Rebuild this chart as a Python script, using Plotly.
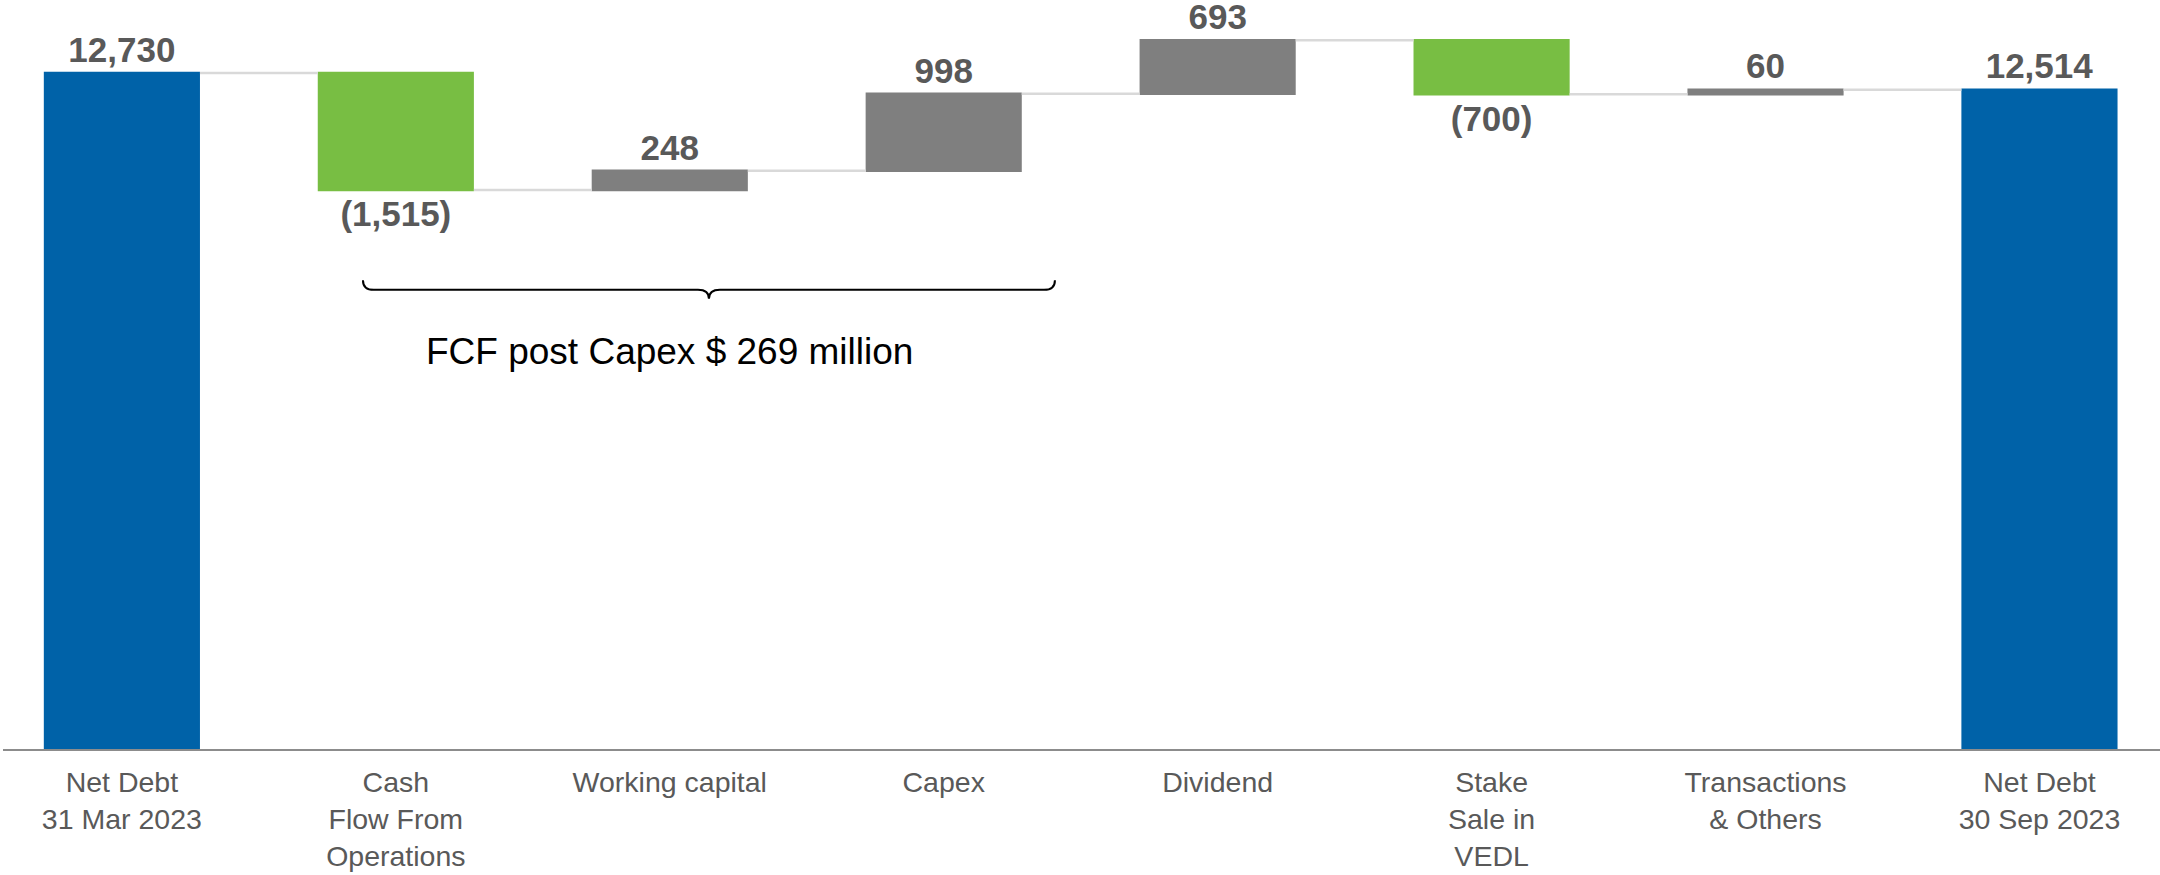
import plotly.graph_objects as go

# Net debt bridge, US$ million
categories = [
    "Net Debt<br>31 Mar 2023",
    "Cash<br>Flow From<br>Operations",
    "Working capital",
    "Capex",
    "Dividend",
    "Stake<br>Sale in<br>VEDL",
    "Transactions<br>& Others",
    "Net Debt<br>30 Sep 2023",
]
measures = ["absolute", "relative", "relative", "relative", "relative", "relative", "relative", "total"]
values = [12730, -1515, 248, 998, 693, -700, 60, 0]

note_text = "FCF post Capex $ 269 million"

BLUE = "#0062A8"
GREEN = "#78BE43"
GREY = "#7F7F7F"
LABEL = "#595959"
FONT = "Liberation Sans, Arial, sans-serif"


def fmt(v):
    s = f"{abs(v):,.0f}"
    return f"({s})" if v < 0 else s


# running totals so the closing bar label states its own value
labels = []
running = 0
for m, v in zip(measures, values):
    if m == "total":
        labels.append(fmt(running))
    else:
        running += v
        labels.append(fmt(v))

xpos = list(range(len(categories)))

fig = go.Figure(
    go.Waterfall(
        x=xpos,
        y=values,
        measure=measures,
        text=labels,
        textposition="outside",
        textfont=dict(family=FONT, size=35, color=LABEL, weight="bold"),
        constraintext="none",
        cliponaxis=False,
        increasing=dict(marker=dict(color=GREY)),
        decreasing=dict(marker=dict(color=GREEN)),
        totals=dict(marker=dict(color=BLUE)),
        connector=dict(line=dict(color="#D9D9D9", width=2.5)),
        hoverinfo="skip",
    )
)

# curly brace spanning the operating cash items, drawn in x units / paper y
x0, x1 = 0.88, 3.406
xm = (x0 + x1) / 2
rx = 0.04
y_tip, y_line, y_dip = 0.626, 0.613, 0.601
brace = (
    f"M {x0},{y_tip} Q {x0},{y_line} {x0 + rx},{y_line} "
    f"L {xm - rx},{y_line} Q {xm},{y_line} {xm},{y_dip} "
    f"Q {xm},{y_line} {xm + rx},{y_line} "
    f"L {x1 - rx},{y_line} Q {x1},{y_line} {x1},{y_tip}"
)
fig.add_shape(type="path", path=brace, xref="x", yref="paper",
              line=dict(color="#000000", width=2))

fig.add_annotation(
    x=2, y=0.531, xref="x", yref="paper",
    text=note_text, showarrow=False,
    font=dict(family=FONT, size=37, color="#000000"),
    xanchor="center", yanchor="middle",
)

fig.update_layout(
    width=2160,
    height=875,
    margin=dict(l=3, r=0, t=0, b=126),
    paper_bgcolor="white",
    plot_bgcolor="white",
    showlegend=False,
    waterfallgap=0.43,
    xaxis=dict(
        range=[-0.434, 7.44],
        tickvals=xpos,
        ticktext=categories,
        tickfont=dict(family=FONT, size=28.5, color=LABEL),
        showline=True,
        linecolor="#8C8C8C",
        linewidth=2,
        showgrid=False,
        zeroline=False,
        ticks="",
        ticklabelstandoff=7,
        automargin=False,
    ),
    yaxis=dict(
        range=[3974, 13676],
        visible=False,
        showgrid=False,
        zeroline=False,
        automargin=False,
    ),
)

fig.write_html("out.html")
